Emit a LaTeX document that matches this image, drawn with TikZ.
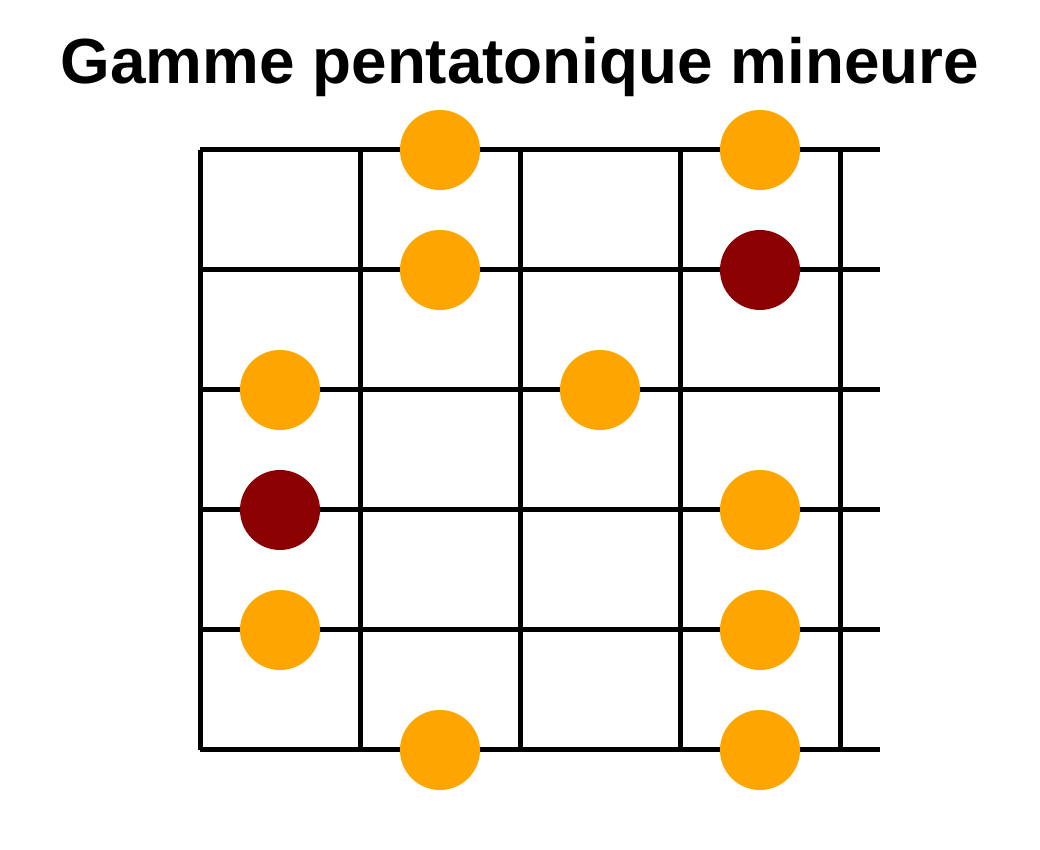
\documentclass[tikz,border=0pt]{standalone}
\usepackage{fontspec}
\setmainfont{Liberation Sans}
\definecolor{noteorange}{HTML}{FFA500}
\definecolor{noteroot}{HTML}{8B0000}
\tikzset{
	fretline/.style={line width=0.125cm},
	note/.style={circle,fill=noteorange,minimum size=2cm,inner sep=0pt},
	rootnote/.style={note,fill=noteroot}
}
\begin{document}
\begin{tikzpicture}
	\useasboundingbox (0,0) rectangle (26,21.25);
	% title
	\node (title) [anchor=base,font=\bfseries\fontsize{45.4}{50}\selectfont] at (13,19.15) {Gamme pentatonique mineure};
	% the strings
	\foreach \y in {2.5,5.5,8.5,11.5,14.5,17.5}
		\draw[fretline] (5,\y) -- (22,\y);
	% the frets
	\foreach \x in {5,9,13,17,21}
		\draw[fretline] (\x,2.5) -- (\x,17.5);
	% the notes
	\node[note] (n1) at (11,17.5) {};
	\node[note] (n2) at (19,17.5) {};
	\node[note] (n3) at (11,14.5) {};
	\node[rootnote] (r1) at (19,14.5) {};
	\node[note] (n4) at (7,11.5) {};
	\node[note] (n5) at (15,11.5) {};
	\node[rootnote] (r2) at (7,8.5) {};
	\node[note] (n6) at (19,8.5) {};
	\node[note] (n7) at (7,5.5) {};
	\node[note] (n8) at (19,5.5) {};
	\node[note] (n9) at (11,2.5) {};
	\node[note] (n10) at (19,2.5) {};
\end{tikzpicture}
\end{document}
